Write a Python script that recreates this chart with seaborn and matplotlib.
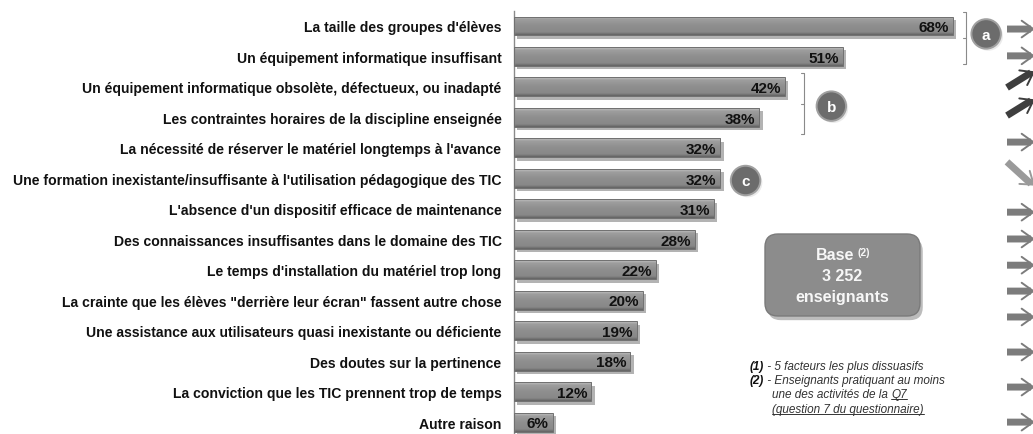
import matplotlib
matplotlib.use("Agg")
import matplotlib.pyplot as plt
import matplotlib.patheffects as pe
from matplotlib.colors import LinearSegmentedColormap
from matplotlib.patches import FancyBboxPatch, Rectangle
from matplotlib.transforms import IdentityTransform
import numpy as np
import seaborn as sns

LABELS = [
    "La taille des groupes d'élèves",
    "Un équipement informatique insuffisant",
    "Un équipement informatique obsolète, défectueux, ou inadapté",
    "Les contraintes horaires de la discipline enseignée",
    "La nécessité de réserver le matériel longtemps à l'avance",
    "Une formation inexistante/insuffisante à l'utilisation pédagogique des TIC",
    "L'absence d'un dispositif efficace de maintenance",
    "Des connaissances insuffisantes dans le domaine des TIC",
    "Le temps d'installation du matériel trop long",
    "La crainte que les élèves \"derrière leur écran\" fassent autre chose",
    "Une assistance aux utilisateurs quasi inexistante ou déficiente",
    "Des doutes sur la pertinence",
    "La conviction que les TIC prennent trop de temps",
    "Autre raison",
]
VALUES = [68, 51, 42, 38, 32, 32, 31, 28, 22, 20, 19, 18, 12, 6]

# evolution arrows on the right edge (row position, trend)
ARROW_ROWS = [0.1, 0.98, 1.74, 2.66, 3.81, 4.86, 6.11, 6.99, 7.85, 8.70, 9.55, 10.70, 11.85, 13.0]
ARROW_TRENDS = ["=", "=", "up", "up", "=", "down", "=", "=", "=", "=", "=", "=", "=", "="]

FOOTNOTES = [
    ("(1)", " - 5 facteurs les plus dissuasifs"),
    ("(2)", " - Enseignants pratiquant au moins"),
]

sns.set_theme(style="white")
plt.rcParams["font.family"] = ["Liberation Sans", "DejaVu Sans"]

W, H = 1033, 435
fig = plt.figure(figsize=(W / 100, H / 100), dpi=100)
ax = fig.add_axes([514 / W, 0, 1 - 514 / W, 1])

sns.barplot(x=VALUES, y=LABELS, orient="h", color="#8c8c8c", saturation=1,
            width=0.62, edgecolor="none", ax=ax)

XMAX = (W - 514) / 6.45
ax.set_xlim(0, XMAX)
ax.set_ylim(13.39, -0.886)

# bevelled gray bars: shadow + vertical gradient + thin outline
grad_cmap = LinearSegmentedColormap.from_list(
    "bar", [(0, "#c4c4c4"), (0.15, "#9e9e9e"), (0.5, "#8e8e8e"), (0.85, "#888888"), (1, "#626262")])
grad = np.linspace(0, 1, 64).reshape(-1, 1)
for patch in list(ax.patches):
    x0, y0 = patch.get_x(), patch.get_y()
    w, h = patch.get_width(), patch.get_height()
    patch.set_path_effects([pe.SimplePatchShadow(offset=(2.5, -2.5), shadow_rgbFace="#ababab", alpha=0.9),
                            pe.Normal()])
    im = ax.imshow(grad, extent=(x0, x0 + w, y0 + h, y0), aspect="auto", cmap=grad_cmap,
                   vmin=0, vmax=1, zorder=2.5, interpolation="bilinear")
    im.set_clip_path(patch)
    ax.add_patch(Rectangle((x0, y0), w, h, facecolor="none", edgecolor="#707070", lw=0.7, zorder=3))

ax.set_xlim(0, XMAX)
ax.set_ylim(13.39, -0.886)

for i, v in enumerate(VALUES):
    ax.text(v - 0.6, i + 0.04, f"{v}%", ha="right", va="center", fontsize=11,
            fontweight="bold", color="#111111", zorder=4)

ax.xaxis.set_visible(False)
for s in ["top", "right", "bottom"]:
    ax.spines[s].set_visible(False)
ax.spines["left"].set_color("#8a8a8a")
ax.spines["left"].set_linewidth(1.0)
ax.spines["left"].set_bounds(-0.49, 13.39)
ax.tick_params(axis="y", length=0, pad=9)
ax.set_ylabel("")
for t in ax.get_yticklabels():
    t.set_fontweight("bold")
    t.set_fontsize(10.1)
    t.set_color("#111111")

# brackets
def bracket(x, y_top, y_bot):
    ax.plot([x - 0.45, x, x, x - 0.45], [y_top, y_top, y_bot, y_bot], color="#8a8a8a", lw=0.8,
            clip_on=False, zorder=3)
    ym = (y_top + y_bot) / 2
    ax.plot([x - 0.45, x], [ym, ym], color="#8a8a8a", lw=0.8, zorder=3)

bracket(70.1, -0.46, 1.25)
bracket(44.9, 1.54, 3.55)

for letter, cx, cy in [("a", 73.2, 0.26), ("b", 49.2, 2.63), ("c", 35.9, 5.07)]:
    ax.scatter([cx], [cy], s=450, color="#6c6c6c", edgecolor="#a0a0a0", linewidth=1.4, zorder=4,
               path_effects=[pe.SimplePatchShadow(offset=(1.5, -1.5), shadow_rgbFace="#bbbbbb"), pe.Normal()])
    ax.text(cx, cy + 0.03, letter, ha="center", va="center", color="white", fontsize=11,
            fontweight="bold", zorder=5)

# evolution arrows: thick shaft + thin open head
arrow_colors = {"=": "#7c7c7c", "up": "#3e3e3e", "down": "#9a9a9a"}
arrow_dy = {"=": (0, 0), "up": (0.28, -0.25), "down": (-0.4, 0.38)}
for yr, trend in zip(ARROW_ROWS, ARROW_TRENDS):
    d0, d1 = arrow_dy[trend]
    c = arrow_colors[trend]
    ax.annotate("", xy=(1031, yr + d1 - (d1 - d0) * 0.08), xycoords=("figure pixels", "data"),
                xytext=(1007, yr + d0), textcoords=("figure pixels", "data"),
                arrowprops=dict(arrowstyle="-", color=c, lw=5, shrinkA=0, shrinkB=0,
                                capstyle="butt"))
    ax.annotate("", xy=(1035, yr + d1), xycoords=("figure pixels", "data"),
                xytext=(1020, yr + d1 - (d1 - d0) * 0.5), textcoords=("figure pixels", "data"),
                arrowprops=dict(arrowstyle="->,head_length=0.7,head_width=0.5", color=c, lw=1.4,
                                shrinkA=0, shrinkB=0))

# base box
idt = IdentityTransform()
box = FancyBboxPatch((765, H - 317), 155, 82, boxstyle="round,pad=0,rounding_size=13",
                     transform=idt, facecolor="#8c8c8c", edgecolor="#7a7a7a", lw=1,
                     path_effects=[pe.SimplePatchShadow(offset=(2, -3), shadow_rgbFace="#b5b5b5", alpha=0.9),
                                   pe.Normal()])
fig.patches.append(box)
box.set_figure(fig)
fig.text(835 / W, 1 - 256 / H, "Base", ha="center", va="center", color="#f7f7f7",
         fontsize=11.5, fontweight="bold")
fig.text(858 / W, 1 - 253 / H, "(2)", ha="left", va="center", color="#f7f7f7",
         fontsize=7.5, fontweight="bold")
fig.text(842 / W, 1 - 277 / H, "3 252", ha="center", va="center", color="#f7f7f7",
         fontsize=11.5, fontweight="bold")
fig.text(842 / W, 1 - 298 / H, "enseignants", ha="center", va="center", color="#f7f7f7",
         fontsize=11.5, fontweight="bold")

# footnotes
fn_color = "#333333"
fig.canvas.draw()
r = fig.canvas.get_renderer()
for (num, txt), yy in zip(FOOTNOTES, [367, 381]):
    t1 = fig.text(750 / W, 1 - yy / H, num, ha="left", va="center", fontsize=8.5,
                  fontstyle="italic", fontweight="bold", color="#111111")
    bb = t1.get_window_extent(r)
    fig.text(bb.x1 / W, 1 - yy / H, txt, ha="left", va="center", fontsize=8.5,
             fontstyle="italic", color=fn_color)

t3 = fig.text(772 / W, 1 - 395 / H, "une des activités de la ", ha="left", va="center",
              fontsize=8.5, fontstyle="italic", color=fn_color)
bb3 = t3.get_window_extent(r)
t4 = fig.text(bb3.x1 / W, 1 - 395 / H, "Q7", ha="left", va="center", fontsize=8.5,
              fontstyle="italic", color=fn_color)
t5 = fig.text(772 / W, 1 - 410 / H, "(question 7 du questionnaire)", ha="left", va="center",
              fontsize=8.5, fontstyle="italic", color=fn_color)
for t in [t4, t5]:
    b = t.get_window_extent(r)
    fig.lines.append(plt.Line2D([b.x0, b.x1], [b.y0 + 1, b.y0 + 1], transform=idt,
                                color=fn_color, lw=0.7, figure=fig))

fig.savefig("out.png", dpi=100)
